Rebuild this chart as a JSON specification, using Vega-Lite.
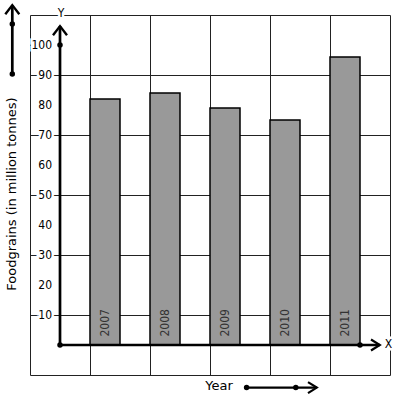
{
  "$schema": "https://vega.github.io/schema/vega-lite/v6.json",
  "width": 360,
  "height": 360,
  "autosize": {"type": "none"},
  "padding": {"left": 30, "top": 15, "right": 7, "bottom": 26},
  "background": "white",
  "config": {"view": {"stroke": null}, "font": "DejaVu Sans Condensed"},
  "data": {"values": [
    {"year": 2007, "value": 82},
    {"year": 2008, "value": 84},
    {"year": 2009, "value": 79},
    {"year": 2010, "value": 75},
    {"year": 2011, "value": 96}
  ]},
  "layer": [
    {
      "mark": {"type": "bar", "width": 30, "fill": "#999999", "stroke": "#000000", "strokeWidth": 1.5, "clip": false},
      "encoding": {
        "x": {"field": "year", "type": "quantitative",
          "scale": {"domain": [2005.75, 2011.75], "nice": false, "zero": false, "padding": 0},
          "axis": {"values": [2005.75, 2006.25, 2006.75, 2007.25, 2007.75, 2008.25, 2008.75, 2009.25, 2009.75, 2010.25, 2010.75, 2011.25, 2011.75],
            "grid": true, "gridColor": "#222222", "gridOpacity": 1, "gridWidth": 1, "labels": false, "ticks": false, "domain": false, "title": null}},
        "y": {"field": "value", "type": "quantitative",
          "scale": {"domain": [-10, 110], "nice": false, "zero": false, "padding": 0},
          "axis": {"values": [-10, 0, 10, 20, 30, 40, 50, 60, 70, 80, 90, 100, 110],
            "grid": true, "gridColor": "#222222", "gridOpacity": 1, "gridWidth": 1, "labels": false, "ticks": false, "domain": false, "title": null}},
        "y2": {"datum": 0}
      }
    },
    {
      "mark": {"type": "text", "angle": 270, "align": "left", "baseline": "middle", "fontSize": 12, "color": "#333333", "dx": -1.5},
      "encoding": {
        "x": {"field": "year", "type": "quantitative"},
        "y": {"datum": 3.3, "type": "quantitative"},
        "text": {"field": "year", "type": "nominal"}
      }
    },
    {
      "data": {"values": [{}]},
      "mark": {"type": "rule", "strokeWidth": 2.7, "color": "#000000", "clip": false},
      "encoding": {
        "x": {"datum": 2006.25, "type": "quantitative"},
        "y": {"datum": 0, "type": "quantitative"},
        "y2": {"datum": 106.3}
      }
    },
    {
      "data": {"values": [{}]},
      "mark": {"type": "rule", "strokeWidth": 2.7, "color": "#000000", "clip": false},
      "encoding": {
        "x": {"datum": 2006.25, "type": "quantitative"},
        "x2": {"datum": 2011.58},
        "y": {"datum": 0, "type": "quantitative"}
      }
    },
    {
      "data": {"values": [{}]},
      "mark": {"type": "rule", "strokeWidth": 2.7, "color": "#000000", "clip": false},
      "encoding": {
        "x": {"datum": 2005.455, "type": "quantitative"},
        "y": {"datum": 90.3, "type": "quantitative"},
        "y2": {"datum": 113.3}
      }
    },
    {
      "data": {"values": [{}]},
      "mark": {"type": "rule", "strokeWidth": 2.2, "color": "#000000", "clip": false},
      "encoding": {
        "x": {"datum": 2009.36, "type": "quantitative"},
        "x2": {"datum": 2010.53},
        "y": {"datum": -14.2, "type": "quantitative"}
      }
    },
    {
      "data": {"values": [{"px": 2006.25, "py": 106.3}, {"px": 2005.455, "py": 113.3}]},
      "mark": {"type": "point", "shape": "M-1,1.3L0,0L1,1.3", "size": 196, "filled": false, "stroke": "#000000", "strokeWidth": 2.4, "opacity": 1, "clip": false},
      "encoding": {
        "x": {"field": "px", "type": "quantitative"},
        "y": {"field": "py", "type": "quantitative"}
      }
    },
    {
      "data": {"values": [{"px": 2011.58, "py": 0}, {"px": 2010.53, "py": -14.2}]},
      "mark": {"type": "point", "shape": "M-1.6,-1L0,0L-1.6,1", "size": 121, "filled": false, "stroke": "#000000", "strokeWidth": 2.2, "opacity": 1, "clip": false},
      "encoding": {
        "x": {"field": "px", "type": "quantitative"},
        "y": {"field": "py", "type": "quantitative"}
      }
    },
    {
      "data": {"values": [
        {"px": 2006.25, "py": 100}, {"px": 2006.25, "py": 0}, {"px": 2011.25, "py": 0},
        {"px": 2005.455, "py": 107}, {"px": 2005.455, "py": 90.3},
        {"px": 2009.36, "py": -14.2}, {"px": 2010.18, "py": -14.2}
      ]},
      "mark": {"type": "point", "shape": "circle", "size": 30, "filled": true, "color": "#000000", "opacity": 1, "clip": false},
      "encoding": {
        "x": {"field": "px", "type": "quantitative"},
        "y": {"field": "py", "type": "quantitative"}
      }
    },
    {
      "data": {"values": [{"tick": 10}, {"tick": 20}, {"tick": 30}, {"tick": 40}, {"tick": 50}, {"tick": 60}, {"tick": 70}, {"tick": 80}, {"tick": 90}, {"tick": 100}]},
      "layer": [
        {
          "mark": {"type": "text", "align": "right", "baseline": "middle", "fontSize": 12, "stroke": "white", "strokeWidth": 5, "fill": "white"},
          "encoding": {
            "x": {"datum": 2006.117, "type": "quantitative"},
            "y": {"field": "tick", "type": "quantitative"},
            "text": {"field": "tick", "type": "nominal"}
          }
        },
        {
          "mark": {"type": "text", "align": "right", "baseline": "middle", "fontSize": 12, "color": "#000000"},
          "encoding": {
            "x": {"datum": 2006.117, "type": "quantitative"},
            "y": {"field": "tick", "type": "quantitative"},
            "text": {"field": "tick", "type": "nominal"}
          }
        }
      ]
    },
    {
      "data": {"values": [{"label": "Y", "px": 2006.267, "py": 110.8}, {"label": "X", "px": 2011.725, "py": 0.3}]},
      "layer": [
        {
          "mark": {"type": "text", "align": "center", "baseline": "middle", "fontSize": 12, "stroke": "white", "strokeWidth": 5, "fill": "white", "clip": false},
          "encoding": {
            "x": {"field": "px", "type": "quantitative"},
            "y": {"field": "py", "type": "quantitative"},
            "text": {"field": "label", "type": "nominal"}
          }
        },
        {
          "mark": {"type": "text", "align": "center", "baseline": "middle", "fontSize": 12, "color": "#000000", "clip": false},
          "encoding": {
            "x": {"field": "px", "type": "quantitative"},
            "y": {"field": "py", "type": "quantitative"},
            "text": {"field": "label", "type": "nominal"}
          }
        }
      ]
    },
    {
      "data": {"values": [{"label": "Foodgrains (in million tonnes)"}]},
      "mark": {"type": "text", "angle": 270, "align": "center", "baseline": "middle", "fontSize": 13, "font": "DejaVu Sans", "color": "#000000", "clip": false},
      "encoding": {
        "x": {"datum": 2005.45, "type": "quantitative"},
        "y": {"datum": 50.3, "type": "quantitative"},
        "text": {"field": "label", "type": "nominal"}
      }
    },
    {
      "data": {"values": [{"label": "Year"}]},
      "mark": {"type": "text", "align": "center", "baseline": "middle", "fontSize": 13, "font": "DejaVu Sans", "color": "#000000", "clip": false},
      "encoding": {
        "x": {"datum": 2008.9, "type": "quantitative"},
        "y": {"datum": -13.7, "type": "quantitative"},
        "text": {"field": "label", "type": "nominal"}
      }
    }
  ]
}
